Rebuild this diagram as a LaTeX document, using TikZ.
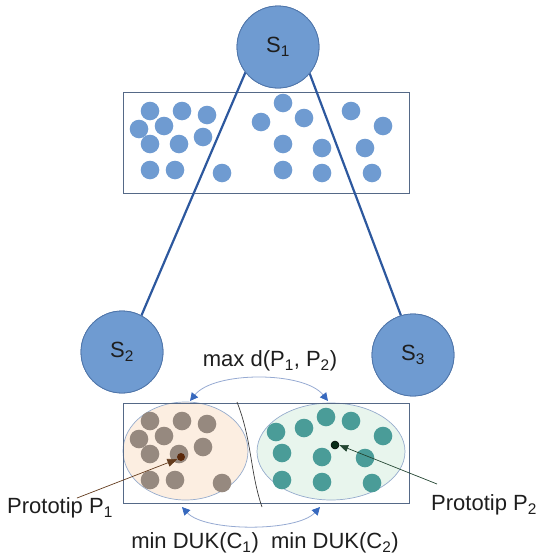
\documentclass[tikz,border=0pt]{standalone}
\usepackage{fontspec}
\setmainfont{Liberation Sans}
\usetikzlibrary{shapes.geometric,arrows.meta}
\definecolor{sblue}{RGB}{111,155,209}
\definecolor{sborder}{RGB}{80,118,170}
\definecolor{lineblue}{RGB}{45,88,158}
\definecolor{boxline}{RGB}{85,105,135}
\definecolor{browndot}{RGB}{150,137,127}
\definecolor{tealdot}{RGB}{74,156,152}
\definecolor{peach}{RGB}{252,238,225}
\definecolor{mint}{RGB}{232,245,237}
\definecolor{ellline}{RGB}{150,172,205}
\definecolor{arcline}{RGB}{150,170,210}
\definecolor{tipblue}{RGB}{55,105,190}
\definecolor{txt}{RGB}{30,30,30}
\tikzset{
  snode/.style={circle, draw=sborder, line width=0.8pt, fill=sblue, minimum size=82pt, inner sep=0pt, font=\fontsize{22}{24}\selectfont, text=txt},
  boxnode/.style={draw=boxline, line width=0.9pt, inner sep=0pt},
  clust/.style={ellipse, draw=ellline, line width=0.7pt, inner sep=0pt},
  link/.style={draw=lineblue, line width=2.2pt},
  darc/.style={draw=arcline, line width=0.8pt, {Triangle[length=8pt,width=8pt,color=tipblue]}-{Triangle[length=8pt,width=8pt,color=tipblue]}},
  lbl/.style={font=\fontsize{22}{24}\selectfont, text=txt, inner sep=0pt},
}
\newcommand{\bdot}[2]{\fill[sblue] (#1,#2) circle (9.3);}
\newcommand{\brdot}[2]{\fill[browndot] (#1,#2) circle (9.3);}
\newcommand{\tdot}[2]{\fill[tealdot] (#1,#2) circle (9.3);}
\begin{document}
\begin{tikzpicture}[x=1pt,y=-1pt]
\useasboundingbox (0,0) rectangle (540,557);
% top box
\node[boxnode, minimum width=286pt, minimum height=101pt] (topbox) at (266,142.5) {};
\foreach \x/\y in {150/111,182/111,207/115,139/129,164/126,150/144,179/144,203/137,150/170,175/170,222/173,
  283/103,261/122,304/118,283/144,322/148,283/170,322/173,351/111,383/126,365/148,372/173} {\bdot{\x}{\y}}
% S nodes
\node[snode] (S1) at (278,47) {};
\node[snode] (S2) at (122,352) {};
\node[snode] (S3) at (413,355) {};
\path[link] (S1.218) -- (S2.62);
\path[link] (S1.320) -- (S3.107);
\node[snode] at (S1) {S\textsubscript{1}};
\node[snode] at (S2) {S\textsubscript{2}};
\node[snode] at (S3) {S\textsubscript{3}};
% bottom box and clusters
\node[clust, fill=peach, minimum width=125pt, minimum height=98pt] (C1) at (185.5,451) {};
\node[clust, fill=mint, minimum width=148pt, minimum height=97pt] (C2) at (331,451.5) {};
\foreach \x/\y in {150/421,182/421,207/424,139/439,164/436,150/454,179/454,203/447,150/480,175/480,222/483} {\brdot{\x}{\y}}
\foreach \x/\y in {276/432,304/428,326/417,351/421,383/436,282/453,322/457,365/458,282/480,322/482,372/483} {\tdot{\x}{\y}}
\node[boxnode, minimum width=286pt, minimum height=100pt] (botbox) at (266,453) {};
\node[circle, fill={rgb,255:red,90;green,40;blue,10}, minimum size=8pt, inner sep=0pt] (P1) at (181,457) {};
\node[circle, fill={rgb,255:red,10;green,45;blue,25}, draw=black, line width=0.5pt, minimum size=8pt, inner sep=0pt] (P2) at (335,445) {};
% separator curve
\coordinate (sepA) at (237,402);
\coordinate (sepB) at (262,507);
\draw[draw={rgb,255:red,60;green,60;blue,60}, line width=0.7pt] (sepA) .. controls (252,440) and (250,472) .. (sepB);
% double arcs
\coordinate (ta) at (190,401);
\coordinate (tb) at (328,401);
\draw[darc] (ta) .. controls (214,371) and (304,371) .. (tb);
\coordinate (ba) at (182,507);
\coordinate (bb) at (320,507);
\draw[darc] (ba) .. controls (205,532) and (297,532) .. (bb);
% labels
\node[lbl] (maxd) at (270,361) {max d(P\textsubscript{1}, P\textsubscript{2})};
\node[lbl] (mind) at (265,543) {min DUK(C\textsubscript{1})\ \ min DUK(C\textsubscript{2})};
\node[lbl] (pt1) at (60,508) {Prototip P\textsubscript{1}};
\node[lbl, anchor=west] (pt2) at (431,505) {Prototip P\textsubscript{2}};
% pointer arrows
\coordinate (p1s) at (77,498);
\coordinate (p2s) at (437,484);
\draw[draw={rgb,255:red,100;green,60;blue,30}, line width=0.7pt, -{Triangle[length=10pt,width=8pt]}] (p1s) -- (P1.210);
\draw[draw={rgb,255:red,35;green,70;blue,50}, line width=0.7pt, -{Triangle[length=9pt,width=7pt]}] (p2s) -- (P2.east);
\end{tikzpicture}
\end{document}
